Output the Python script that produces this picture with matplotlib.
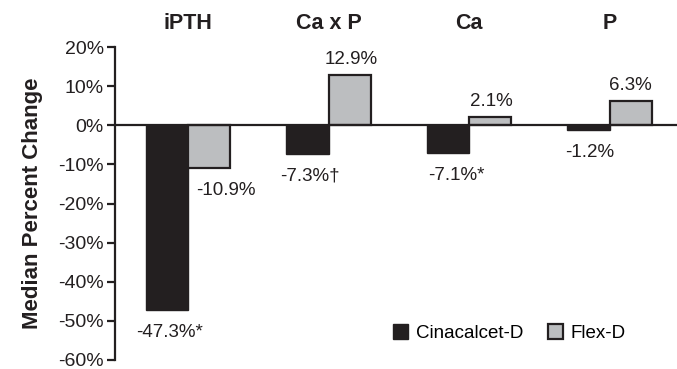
import matplotlib
matplotlib.use("Agg")
import matplotlib.pyplot as plt
import numpy as np
from matplotlib.patches import Patch
from matplotlib.ticker import FuncFormatter

plt.rcParams['font.family'] = ['Liberation Sans', 'DejaVu Sans']

# --- data ---
categories = ['iPTH', 'Ca x P', 'Ca', 'P']
cinacalcet = [-47.3, -7.3, -7.1, -1.2]
flex = [-10.9, 12.9, 2.1, 6.3]
cina_labels = ['-47.3%*', '-7.3%\u2020', '-7.1%*', '-1.2%']
flex_labels = ['-10.9%', '12.9%', '2.1%', '6.3%']

BLACK = '#231f20'
GREY = '#bcbec0'
W = 0.3
FS = 13.5

fig = plt.figure(figsize=(6.77, 3.69), dpi=100)
ax = fig.add_axes([0.170, 0.025, 0.830, 0.847])

x = np.arange(len(categories))
ax.bar(x - W / 2, cinacalcet, W, color=BLACK, edgecolor=BLACK, linewidth=1.0, zorder=2)
ax.bar(x + W / 2, flex, W, color=GREY, edgecolor=BLACK, linewidth=1.6, zorder=2)

ax.axhline(0, color=BLACK, linewidth=1.6, zorder=3)

ax.set_xlim(-0.52, 3.48)
ax.set_ylim(-60, 20)
ax.set_yticks(np.arange(-60, 21, 10))
ax.yaxis.set_major_formatter(FuncFormatter(lambda v, p: f"{v:.0f}%"))
ax.set_xticks([])
for s in ['top', 'right', 'bottom']:
  ax.spines[s].set_visible(False)
ax.spines['left'].set_linewidth(1.6)
ax.spines['left'].set_color(BLACK)
ax.tick_params(axis='y', direction='out', length=5.5, width=1.6, labelsize=14, colors=BLACK, pad=2.5)
ax.set_ylabel('Median Percent Change', fontsize=16, fontweight='bold', labelpad=11, color=BLACK)

# category titles above the plot
for i, c in enumerate(categories):
  ax.text(i, 26.0, c, ha='center', va='center', fontsize=15.5, fontweight='bold',
          color=BLACK, clip_on=False)

# value labels
def put(xc, v, txt, dx=0):
  if v >= 0:
    ax.annotate(txt, (xc, v), xytext=(dx, 5), textcoords='offset points',
                ha='center', va='bottom', fontsize=FS, color=BLACK)
  else:
    ax.annotate(txt, (xc, v), xytext=(dx, -10), textcoords='offset points',
                ha='center', va='top', fontsize=FS, color=BLACK)

dx_cina = [2, 2, 6, 1]
dx_flex = [12, 1, 1, 0]
for i in range(len(categories)):
  put(x[i] - W / 2, cinacalcet[i], cina_labels[i], dx_cina[i])
  put(x[i] + W / 2, flex[i], flex_labels[i], dx_flex[i])

handles = [Patch(facecolor=BLACK, edgecolor=BLACK, linewidth=1.0),
           Patch(facecolor=GREY, edgecolor=BLACK, linewidth=1.6)]
ax.legend(handles, ['Cinacalcet-D', 'Flex-D'], ncol=2, frameon=False, fontsize=FS,
          loc='center left', bbox_to_anchor=(0.465, 0.085), handlelength=0.8,
          handleheight=0.8, handletextpad=0.4, columnspacing=1.3)

fig.savefig('out.png', dpi=100, facecolor='white')
